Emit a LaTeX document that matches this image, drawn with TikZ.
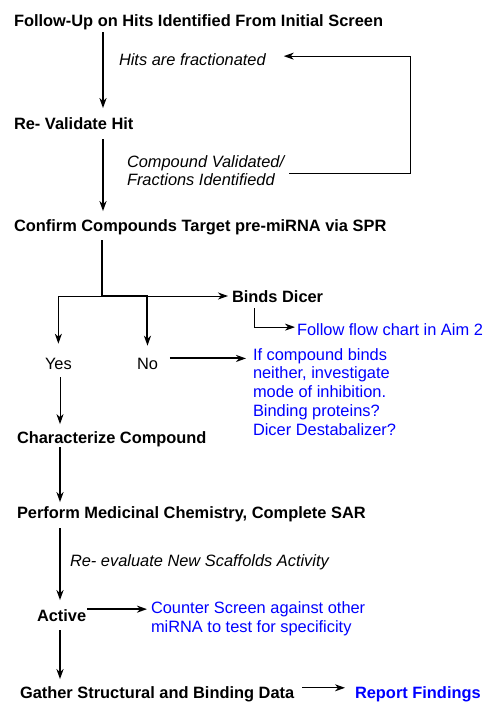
\documentclass[tikz,border=0pt]{standalone}
\usepackage{fontspec}
\setmainfont{Liberation Sans}
\usetikzlibrary{arrows.meta}
\begin{document}
\begin{tikzpicture}[x=1pt, y=-1pt,
  txt/.style={anchor=base west, inner sep=0pt, outer sep=0pt, align=left,
    font=\fontsize{16.4}{18.7}\selectfont},
  stepname/.style={txt, font=\fontsize{16.4}{18.7}\selectfont\bfseries},
  note/.style={txt, font=\fontsize{16.4}{18.7}\selectfont\itshape},
  aside/.style={txt, text=blue},
  big/.style={line width=2pt, -{Stealth[length=10pt,width=7pt,inset=3pt]}},
  small/.style={line width=1pt, -{Stealth[length=10pt,width=7pt,inset=3pt]}}]
  \useasboundingbox (0,0) rectangle (484,703);
  \coordinate (trunk) at (103,0);
  \coordinate (col) at (60,0);
  \coordinate (loop) at (410,0);
  \coordinate (elbow) at (254,0);
  \coordinate (split) at (102,296);

  \node[stepname] (follow) at (14,27) {Follow-Up on Hits Identified From Initial Screen};
  \node[note] (hits) at (119,66) {Hits are fractionated};
  \node[stepname] (revalid) at (14,130) {Re- Validate Hit};
  \node[note] (valid) at (127,186) {Compound Validated/\\Fractions Identifiedd};
  \node[stepname] (confirm) at (14,231) {Confirm Compounds Target pre-miRNA via SPR};
  \node[stepname] (binds) at (232,302) {Binds Dicer};
  \node[aside] (aim2) at (297,335) {Follow flow chart in Aim 2};
  \node[txt] (yes) at (45,369) {Yes};
  \node[txt] (no) at (137,369) {No};
  \node[aside] (neither) at (253,435) {If compound binds\\neither, investigate\\mode of inhibition.\\Binding proteins?\\Dicer Destabalizer?};
  \node[stepname] (charact) at (17,443) {Characterize Compound};
  \node[stepname] (medchem) at (17,518) {Perform Medicinal Chemistry, Complete SAR};
  \node[note] (reeval) at (70,566) {Re- evaluate New Scaffolds Activity};
  \node[stepname] (active) at (37,621) {Active};
  \node[aside] (counter) at (151,632) {Counter Screen against other\\miRNA to test for specificity};
  \node[stepname] (gather) at (20,698) {Gather Structural and Binding Data};
  \node[stepname, text=blue] (report) at (355,698) {Report Findings};

  % upper column
  \draw[big] ([yshift=-2pt]follow.south -| trunk) -- ([yshift=10pt]revalid.north -| trunk);
  \draw[big] ([yshift=-9pt]revalid.south -| trunk) -- ([yshift=8pt]confirm.north -| trunk);
  \draw[small, shorten <=5pt, shorten >=18pt] ([yshift=-3pt]valid.east) -- ([yshift=-3pt]valid.east -| loop)
    |- ([yshift=4pt]hits.east);

  % branches
  \draw[line width=2pt] ([yshift=-6pt]confirm.south -| split) -- (split);
  \draw[line width=2pt] (split) -- (split -| 148,0);
  \draw[small, shorten >=14pt] (split) -| (yes);
  \draw[big, shorten >=12pt] (split -| 148,0) -| (no);
  \draw[small, shorten >=4pt] (split -| 148,0) -- (binds.west |- split);
  \draw[small, shorten >=2pt] ([yshift=-6pt]binds.south -| elbow) |- ([yshift=2pt]aim2.west);
  \draw[big, shorten <=12pt, shorten >=7pt] ([yshift=5pt]no.east) -- ([yshift=5pt]no.east -| neither.west);

  % lower column
  \draw[small] ([yshift=-8pt]yes.south -| col) -- ([yshift=7pt]charact.north -| col);
  \draw[big] ([yshift=-1pt]charact.south -| col) -- ([yshift=4pt]medchem.north -| col);
  \draw[big] ([yshift=-7pt]medchem.south -| col) -- ([yshift=9pt]active.north -| col);
  \draw[big, shorten <=1pt, shorten >=4pt] ([yshift=6pt]active.east) -- ([yshift=6pt]active.east -| counter.west);
  \draw[big] ([yshift=-9pt]active.south -| col) -- ([yshift=7pt]gather.north -| col);
  \draw[small, shorten <=8pt, shorten >=10pt] ([yshift=6pt]gather.east) -- ([yshift=6pt]gather.east -| report.west);
\end{tikzpicture}
\end{document}
